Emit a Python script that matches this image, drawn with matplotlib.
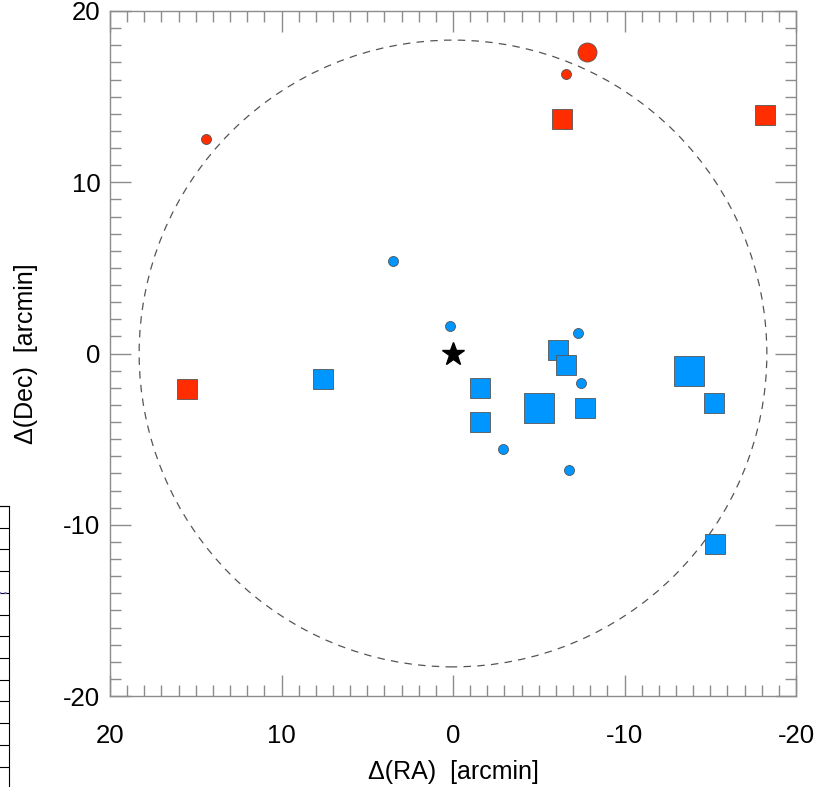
import numpy as np
import matplotlib
matplotlib.use("Agg")
import matplotlib.pyplot as plt
from matplotlib.patches import Circle
from matplotlib.ticker import MultipleLocator

plt.rcParams['font.family'] = ['Liberation Sans', 'DejaVu Sans']
plt.rcParams['axes.unicode_minus'] = False

# ---- data (arcmin offsets) ----
red_circ_x = [14.4, -7.8, -6.6]
red_circ_y = [12.5, 17.6, 16.3]
red_circ_s = [7.2, 13.7, 7.2]

red_sq_x = [-6.35, -18.2, 15.5]
red_sq_y = [13.7, 13.9, -2.1]
red_sq_s = [13.7, 13.7, 13.7]

blue_circ_x = [3.5, 0.2, -7.3, -7.46, -2.9, -6.76]
blue_circ_y = [5.4, 1.6, 1.2, -1.75, -5.6, -6.8]
blue_circ_s = [7.2, 7.2, 7.2, 7.2, 7.2, 7.2]

blue_sq_x = [7.6, -6.1, -6.57, -1.56, -1.6, -5.03, -7.7, -13.74, -15.2, -15.3]
blue_sq_y = [-1.5, 0.2, -0.66, -2.0, -4.0, -3.2, -3.2, -1.0, -2.9, -11.1]
blue_sq_s = [13.7, 13.7, 13.7, 13.7, 13.7, 20.9, 13.7, 20.9, 13.7, 13.7]

star_x, star_y = [0.0], [0.0]
circle_radius = 18.3

RED = '#ff2d00'
BLUE = '#0096ff'
EDGE = '#555555'
AXC = '#8c8c8c'

fig = plt.figure(figsize=(8.16, 7.87), dpi=100)
ax = fig.add_axes([110/816, 1-696/787, 686/816, 685/787])

ax.add_patch(Circle((0, 0), circle_radius, fill=False, ls=(0, (6, 5)),
                    lw=0.9, ec='#555555'))

for x, y, s in zip(blue_sq_x, blue_sq_y, blue_sq_s):
    ax.plot(x, y, 's', ms=s, mfc=BLUE, mec=EDGE, mew=0.6, zorder=3)
for x, y, s in zip(blue_circ_x, blue_circ_y, blue_circ_s):
    ax.plot(x, y, 'o', ms=s, mfc=BLUE, mec=EDGE, mew=0.6, zorder=3)
for x, y, s in zip(red_sq_x, red_sq_y, red_sq_s):
    ax.plot(x, y, 's', ms=s, mfc=RED, mec=EDGE, mew=0.6, zorder=3)
for x, y, s in zip(red_circ_x, red_circ_y, red_circ_s):
    ax.plot(x, y, 'o', ms=s, mfc=RED, mec=EDGE, mew=0.6, zorder=3)
ax.plot(star_x, star_y, '*', ms=17, color='black', zorder=4)

ax.set_xlim(20, -20)
ax.set_ylim(-20, 20)
ax.xaxis.set_major_locator(MultipleLocator(10))
ax.yaxis.set_major_locator(MultipleLocator(10))
ax.xaxis.set_minor_locator(MultipleLocator(1))
ax.yaxis.set_minor_locator(MultipleLocator(1))
ax.tick_params(which='both', direction='in', top=True, right=True, color=AXC)
ax.tick_params(which='major', length=15, width=1)
ax.tick_params(which='minor', length=8, width=1)
ax.tick_params(axis='x', which='major', labelsize=18.5, pad=20)
ax.tick_params(axis='y', which='major', labelsize=18.5, pad=7)
for sp in ax.spines.values():
    sp.set_color(AXC)
    sp.set_linewidth(1)

ax.set_xlabel('Δ(RA)  [arcmin]', fontsize=18, labelpad=9)
ax.set_ylabel('Δ(Dec)  [arcmin]', fontsize=18, labelpad=18)

# partial neighbouring panel at the left edge
ax2 = fig.add_axes([-0.2, -0.05, 0.2 + 9/816, (1-506/787) + 0.05])
ax2.set_xlim(0, 1)
ax2.set_ylim(-0.75, 14)
for s in ['left', 'bottom']:
    ax2.spines[s].set_visible(False)
ax2.yaxis.tick_right()
ax2.yaxis.set_major_locator(MultipleLocator(1))
ax2.tick_params(axis='y', direction='in', length=8, labelright=False)
ax2.set_xticks([])
ax2.axhline(10, color='#7b6fc0', ls=':', lw=1.5)

fig.savefig('out.png', dpi=100)
